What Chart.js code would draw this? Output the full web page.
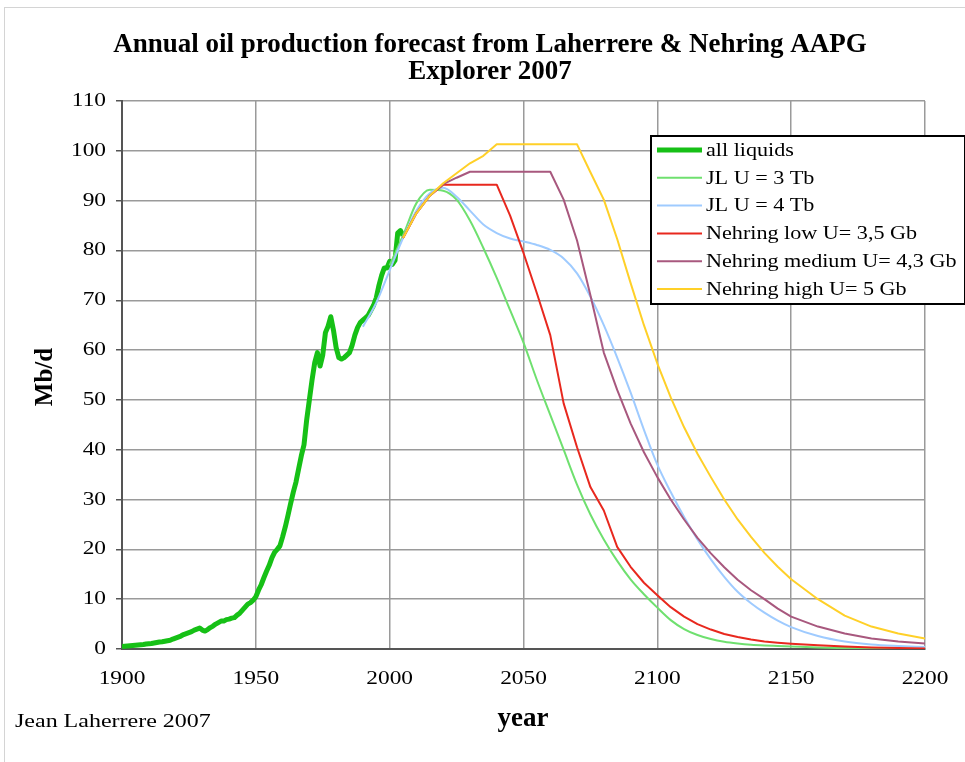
<!DOCTYPE html>
<html>
<head>
<meta charset="utf-8">
<script src="https://cdn.jsdelivr.net/npm/chart.js@4.4.0/dist/chart.umd.min.js"></script>
<style>
  html, body { margin: 0; padding: 0; background: #fff; }
  #wrap { position: relative; width: 965px; height: 762px; overflow: hidden; }
  #frame { position: absolute; left: 4px; top: 7px; width: 1000px; height: 800px; border: 1px solid #d4d4d4; }
  #oilChart { position: absolute; left: 0; top: 0; }
</style>
</head>
<body>
<div id="wrap">
  <div id="frame"></div>
  <canvas id="oilChart" width="965" height="762"></canvas>
</div>
<script>
// --- data (Mb/d) ---

// historical all liquids, one value per year from 1900
const LIQUIDS_START = 1900;
const allLiquids = [
  0.5, 0.55, 0.6, 0.65, 0.7, 0.75, 0.8, 0.85, 0.9, 1.0,
  1.05, 1.1, 1.2, 1.3, 1.4, 1.45, 1.55, 1.65, 1.75, 2.0,
  2.2, 2.4, 2.6, 2.9, 3.1, 3.3, 3.5, 3.8, 4.0, 4.2,
  3.8, 3.6, 3.9, 4.3, 4.6, 5.0, 5.3, 5.6, 5.6, 5.9,
  6.0, 6.2, 6.3, 6.8, 7.2, 7.8, 8.4, 9.0, 9.3, 9.8,
  10.5, 11.8, 12.9, 14.3, 15.6, 16.8, 18.3, 19.4, 20.0, 20.7,
  22.5, 24.5, 26.8, 29.2, 31.5, 33.5, 36.2, 38.8, 41.0, 46.0,
  50.0, 54.0, 57.5, 59.5, 56.8, 59.0, 63.5, 64.8, 66.7, 64.0,
  60.5, 58.5, 58.2, 58.5, 59.0, 59.5, 61.0, 63.0, 64.5, 65.5,
  66.0, 66.5, 67.0, 68.0, 69.0, 70.5, 73.0, 75.0, 76.5, 76.5,
  77.8, 77.2, 78.0, 83.5, 84.0, 83.0
];

// forecast scenarios, sampled every 5 years (then every 10)
const forecastYears = [
  1990, 1995, 2000, 2005, 2010, 2015, 2020, 2025, 2030, 2035,
  2040, 2045, 2050, 2055, 2060, 2065, 2070, 2075, 2080, 2085,
  2090, 2095, 2100, 2105, 2110, 2115, 2120, 2125, 2130, 2135,
  2140, 2145, 2150, 2160, 2170, 2180, 2190, 2200
];
const jl3Tb = [
  null, null, 77, 83, 89.5, 92.2, 92, 90.2, 86, 80.5,
  74.5, 68, 61.5, 54, 47, 40, 33, 27, 22, 17.7,
  14, 11, 8.3, 5.8, 4.0, 2.8, 2.0, 1.45, 1.1, 0.85,
  0.7, 0.6, 0.5, 0.3, 0.2, 0.12, 0.08, 0.05
];
const jl4Tb = [
  64.7, 69.5, 76, 82.5, 88, 91.5, 92.6, 90.8, 88, 85.2,
  83.5, 82.4, 81.8, 81.1, 80.1, 78.4, 75.4, 70.7, 65, 58.5,
  51.5, 44, 37, 31.5, 26.5, 22, 18, 14.5, 11.5, 9.2,
  7.3, 5.7, 4.4, 2.6, 1.5, 0.9, 0.6, 0.4
];
const nehringLow = [
  null, null, null, 82.5, 87.5, 91, 93.2, 93.2, 93.2, 93.2,
  93.2, 87, 79.5, 71.4, 63, 49.3, 40.5, 32.5, 27.8, 20.5,
  16.5, 13.3, 10.8, 8.4, 6.5, 5.0, 3.9, 3.0, 2.4, 1.9,
  1.5, 1.25, 1.05, 0.75, 0.5, 0.3, 0.2, 0.1
];
const nehringMedium = [
  null, null, null, 82.5, 87.5, 91, 93.3, 94.6, 95.8, 95.8,
  95.8, 95.8, 95.8, 95.8, 95.8, 90.2, 82, 71, 59.5, 52,
  45.3, 39.5, 34.5, 30, 26, 22.3, 19.2, 16.4, 13.9, 11.8,
  10, 8.1, 6.5, 4.5, 3.1, 2.1, 1.5, 1.1
];
const nehringHigh = [
  null, null, null, 82.5, 87.5, 91, 93.5, 95.5, 97.5, 99,
  101.3, 101.3, 101.3, 101.3, 101.3, 101.3, 101.3, 95.7, 90.2, 82.3,
  73.5, 65, 57.3, 50.5, 44.5, 39.2, 34.5, 30, 26, 22.5,
  19.3, 16.5, 14, 10, 6.7, 4.5, 3.1, 2.1
];

const seriesLabels = [
  'all liquids', 'JL U = 3 Tb', 'JL U = 4 Tb',
  'Nehring low U= 3,5 Gb', 'Nehring medium U= 4,3 Gb', 'Nehring high U= 5 Gb'
];
const seriesColors = ['#16c016', '#6fe06f', '#9fcbff', '#e8281e', '#a8587e', '#ffd028'];

const yTicks = { min: 0, max: 110, step: 10 };
const xTicks = { min: 1900, max: 2200, step: 50 };

// --- helpers ---

function toPoints(years, values) {
  const pts = [];
  values.forEach((v, i) => {
    if (v !== null) pts.push({ x: years[i], y: v });
  });
  return pts;
}

const liquidsYears = allLiquids.map((_, i) => LIQUIDS_START + i);

const SERIF = '"Liberation Serif", "Times New Roman", serif';
const STRETCH = 1.23; // tick and legend lettering in the original is wide

// 文字を書く（sx で横方向に伸ばす）
function drawText(c, text, x, y, align, font, sx, rotate) {
  c.save();
  c.translate(x, y);
  c.scale(sx, 1);
  if (rotate) c.rotate(rotate);
  c.font = font;
  c.textAlign = align;
  c.textBaseline = 'middle';
  c.fillStyle = '#000';
  c.fillText(text, 0, 0);
  c.restore();
}

// 凡例・タイトル・目盛りラベルはキャンバスに直接描く
const textPlugin = {
  id: 'textPlugin',
  afterDraw(chart) {
    const c = chart.ctx;
    const bold = 'bold 27px ' + SERIF;
    drawText(c, 'Annual oil production forecast from Laherrere & Nehring AAPG', 490, 45, 'center', bold, 1);
    drawText(c, 'Explorer 2007', 490, 72, 'center', bold, 1);
    drawText(c, 'year', 523, 719, 'center', bold, 1);
    drawText(c, 'Mb/d', 46, 377, 'center', 'bold 25px ' + SERIF, 1, -Math.PI / 2);
    drawText(c, 'Jean Laherrere 2007', 15, 722, 'left', '19.5px ' + SERIF, STRETCH);

    // tick labels from the library's scales
    const xs = chart.scales.x, ys = chart.scales.y;
    const tickFont = '19px ' + SERIF;
    xs.ticks.forEach(t => {
      drawText(c, String(t.value), xs.getPixelForValue(t.value), 679, 'center', tickFont, STRETCH);
    });
    ys.ticks.forEach(t => {
      drawText(c, String(t.value), 106, ys.getPixelForValue(t.value), 'right', tickFont, STRETCH);
    });

    // legend box
    c.save();
    const lx = 651, ly = 136, lw = 314, lh = 168;
    c.fillStyle = '#fff';
    c.fillRect(lx, ly, lw, lh);
    c.strokeStyle = '#000';
    c.lineWidth = 2;
    c.strokeRect(lx, ly, lw, lh);
    chart.data.datasets.forEach((ds, i) => {
      const yy = 150 + i * 27.8;
      c.strokeStyle = ds.borderColor;
      c.lineWidth = ds.borderWidth;
      c.beginPath();
      c.moveTo(657, yy);
      c.lineTo(702, yy);
      c.stroke();
      drawText(c, ds.label, 706, yy + 1, 'left', '18px ' + SERIF, STRETCH);
    });
    c.restore();
  }
};

const ctx = document.getElementById('oilChart');

const datasets = [
  { data: toPoints(liquidsYears, allLiquids), borderWidth: 5, order: 6 },
  { data: toPoints(forecastYears, jl3Tb), borderWidth: 2, order: 5, cubicInterpolationMode: 'monotone' },
  { data: toPoints(forecastYears, jl4Tb), borderWidth: 2, order: 4, cubicInterpolationMode: 'monotone' },
  { data: toPoints(forecastYears, nehringLow), borderWidth: 2, order: 3 },
  { data: toPoints(forecastYears, nehringMedium), borderWidth: 2, order: 2 },
  { data: toPoints(forecastYears, nehringHigh), borderWidth: 2, order: 1 }
].map((ds, i) => Object.assign({
  label: seriesLabels[i],
  borderColor: seriesColors[i],
  backgroundColor: seriesColors[i],
  pointRadius: 0,
  fill: false,
  tension: 0,
  borderJoinStyle: 'round'
}, ds));

const chart = new Chart(ctx, {
  type: 'line',
  data: { datasets: datasets },
  options: {
    responsive: false,
    animation: false,
    events: [],
    layout: { padding: { top: 101, right: 40, left: 0, bottom: 0 } },
    scales: {
      x: {
        type: 'linear',
        min: xTicks.min,
        max: xTicks.max,
        ticks: { stepSize: xTicks.step, display: false },
        grid: { color: '#9a9a9a', lineWidth: 1.5, drawTicks: false },
        border: { color: '#555', width: 2 },
        afterFit: s => { s.height = 113; }
      },
      y: {
        min: yTicks.min,
        max: yTicks.max,
        ticks: { stepSize: yTicks.step, display: false },
        grid: { color: '#9a9a9a', lineWidth: 1.5, tickLength: 6, tickColor: '#555' },
        border: { color: '#555', width: 2 },
        afterFit: s => { s.width = 122; }
      }
    },
    plugins: {
      legend: { display: false },
      title: { display: false },
      tooltip: { enabled: false }
    }
  },
  plugins: [textPlugin]
});
</script>
</body>
</html>
